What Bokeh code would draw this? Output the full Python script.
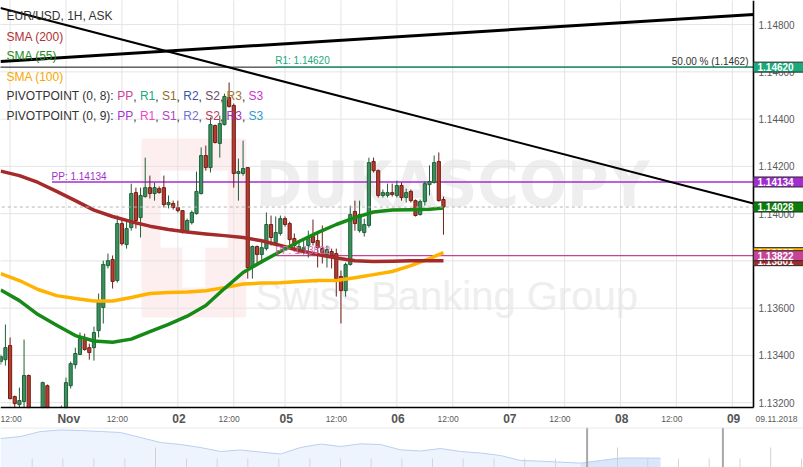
from bokeh.plotting import figure
from bokeh.models import Range1d, FixedTicker, PrintfTickFormatter, Label, BoxAnnotation, Span, ColumnDataSource, LinearAxis
from bokeh.layouts import column
from bokeh.embed import file_html
from bokeh.resources import INLINE

FONT = "Liberation Sans"

# ---------------- data ----------------
# candle index = trading hour counted from 01 Nov 00:00
candle_idx = list(range(-14, 82))
opens = [1.13374, 1.13382, 1.13442, 1.13226, 1.13192, 1.13205, 1.13315, 1.13158, 1.13133, 1.13158,
         1.13272, 1.13158, 1.13133, 1.13150, 1.13166, 1.13272, 1.13361, 1.13404, 1.13467, 1.13433,
         1.13433, 1.13505, 1.13603, 1.13780, 1.13806, 1.13717, 1.13958, 1.13869, 1.13941, 1.14089,
         1.13983, 1.14072, 1.14110, 1.14085, 1.14106, 1.14110, 1.14038, 1.14043, 1.14026, 1.14013,
         1.13928, 1.13962, 1.14000, 1.14085, 1.14246, 1.14195, 1.14373, 1.14297, 1.14377, 1.14491,
         1.14458, 1.14170, 1.14170, 1.14195, 1.13772, 1.13861, 1.13827, 1.13852, 1.13954, 1.13878,
         1.13916, 1.13979, 1.13958, 1.13895, 1.13844, 1.13844, 1.13865, 1.13903, 1.13886, 1.13852,
         1.13827, 1.13840, 1.13831, 1.13734, 1.13674, 1.13785, 1.14009, 1.13928, 1.13920, 1.13950,
         1.14221, 1.14182, 1.14077, 1.14077, 1.14089, 1.14077, 1.14119, 1.14068, 1.14094, 1.14055,
         1.13996, 1.14051, 1.14123, 1.14132, 1.14221, 1.14060]
highs = [1.13404, 1.13531, 1.13476, 1.13230, 1.13264, 1.13467, 1.13319, 1.13166, 1.13175, 1.13289,
         1.13277, 1.13171, 1.13166, 1.13188, 1.13306, 1.13374, 1.13433, 1.13497, 1.13492, 1.13450,
         1.13522, 1.13662, 1.13801, 1.13831, 1.13823, 1.13992, 1.13979, 1.13971, 1.14127, 1.14110,
         1.14110, 1.14237, 1.14161, 1.14132, 1.14115, 1.14161, 1.14077, 1.14055, 1.14055, 1.14013,
         1.13979, 1.14013, 1.14178, 1.14280, 1.14288, 1.14407, 1.14377, 1.14415, 1.14508, 1.14555,
         1.14466, 1.14233, 1.14309, 1.14195, 1.13865, 1.13865, 1.13886, 1.14005, 1.13992, 1.13988,
         1.13992, 1.13988, 1.13966, 1.13916, 1.13886, 1.13886, 1.13928, 1.13975, 1.13924, 1.13950,
         1.13865, 1.13852, 1.13852, 1.13759, 1.13793, 1.14034, 1.14055, 1.14055, 1.13979, 1.14237,
         1.14237, 1.14187, 1.14102, 1.14127, 1.14127, 1.14140, 1.14132, 1.14106, 1.14102, 1.14060,
         1.14060, 1.14136, 1.14204, 1.14246, 1.14259, 1.14072]
lows = [1.13361, 1.13357, 1.13215, 1.13166, 1.13166, 1.13166, 1.13141, 1.13116, 1.13120, 1.13150,
        1.13145, 1.13120, 1.13124, 1.13133, 1.13158, 1.13260, 1.13344, 1.13404, 1.13420, 1.13382,
        1.13378, 1.13476, 1.13535, 1.13768, 1.13683, 1.13708, 1.13865, 1.13852, 1.13928, 1.13937,
        1.13899, 1.14068, 1.14064, 1.14055, 1.14085, 1.14026, 1.14022, 1.14017, 1.14005, 1.13916,
        1.13924, 1.13954, 1.13996, 1.14081, 1.14182, 1.14174, 1.14297, 1.14237, 1.14373, 1.14449,
        1.14110, 1.14055, 1.14161, 1.13725, 1.13725, 1.13785, 1.13789, 1.13844, 1.13865, 1.13873,
        1.13907, 1.13945, 1.13865, 1.13840, 1.13831, 1.13827, 1.13814, 1.13865, 1.13772, 1.13789,
        1.13772, 1.13768, 1.13649, 1.13535, 1.13649, 1.13780, 1.13928, 1.13920, 1.13903, 1.13941,
        1.14174, 1.14068, 1.14068, 1.14068, 1.14072, 1.14068, 1.14055, 1.14047, 1.14047, 1.13988,
        1.13992, 1.14034, 1.14077, 1.14127, 1.14051, 1.13911]
closes = [1.13395, 1.13433, 1.13217, 1.13196, 1.13209, 1.13315, 1.13158, 1.13133, 1.13166, 1.13285,
          1.13158, 1.13133, 1.13158, 1.13166, 1.13285, 1.13365, 1.13408, 1.13471, 1.13425, 1.13412,
          1.13497, 1.13632, 1.13785, 1.13801, 1.13713, 1.13958, 1.13873, 1.13937, 1.14085, 1.13971,
          1.14077, 1.14110, 1.14085, 1.14110, 1.14089, 1.14038, 1.14047, 1.14026, 1.14013, 1.13920,
          1.13971, 1.14005, 1.14094, 1.14246, 1.14195, 1.14377, 1.14301, 1.14381, 1.14496, 1.14453,
          1.14170, 1.14178, 1.14191, 1.13772, 1.13861, 1.13827, 1.13856, 1.13954, 1.13899, 1.13920,
          1.13979, 1.13954, 1.13890, 1.13865, 1.13861, 1.13856, 1.13895, 1.13878, 1.13856, 1.13823,
          1.13848, 1.13823, 1.13725, 1.13674, 1.13785, 1.13996, 1.13958, 1.13996, 1.13954, 1.14216,
          1.14182, 1.14077, 1.14089, 1.14089, 1.14081, 1.14119, 1.14068, 1.14089, 1.14055, 1.13992,
          1.14051, 1.14127, 1.14136, 1.14216, 1.14055, 1.14028]

sma_idx = [-14, -10, -6, -2, 2, 6, 10, 14, 18, 22, 26, 30, 34, 38, 42, 46, 50, 54, 58, 62, 66, 70, 74, 78, 81]
sma200 = [1.14180, 1.14161, 1.14132, 1.14094, 1.14055, 1.14015, 1.13988, 1.13966, 1.13947, 1.13933,
          1.13922, 1.13914, 1.13907, 1.13899, 1.13885, 1.13865, 1.13844, 1.13827, 1.13812, 1.13801,
          1.13797, 1.13799, 1.13801, 1.13801, 1.13801]
sma55 = [1.13677, 1.13632, 1.13573, 1.13528, 1.13484, 1.13461, 1.13456, 1.13469, 1.13501, 1.13531,
         1.13566, 1.13611, 1.13683, 1.13751, 1.13797, 1.13840, 1.13882, 1.13920, 1.13954, 1.13983,
         1.14007, 1.14015, 1.14017, 1.14019, 1.14024]
sma100 = [1.13746, 1.13717, 1.13679, 1.13653, 1.13641, 1.13630, 1.13630, 1.13645, 1.13662, 1.13666,
          1.13668, 1.13674, 1.13687, 1.13702, 1.13706, 1.13708, 1.13713, 1.13717, 1.13717, 1.13729,
          1.13742, 1.13755, 1.13780, 1.13810, 1.13835]

trend_down_x = [-14.06, 147.53]
trend_down_y = [1.14870, 1.14043]
trend_up_x = [-14.06, 147.53]
trend_up_y = [1.14644, 1.14843]

pp1_level, pp1_start = 1.14134, -3
pp2_level, pp2_start = 1.13822, 45
r1_level, r1_start = 1.14620, 45
fib50_level = 1.1462
last_price = 1.14028

y_ticks = [1.132, 1.134, 1.136, 1.138, 1.140, 1.142, 1.144, 1.146, 1.148]
half_day_label_ticks = [-13, 11, 35, 58, 82, 106, 130]
date_tick = 152.47
grid_ticks = [-12, 0, 12, 24, 36, 47, 59, 71, 83, 95, 107, 119, 131, 143]
day_labels = ["Nov", "02", "05", "06", "07", "08", "09"]
day_label_pos = [0.6, 24.25, 47.25, 71.25, 95.25, 119.25, 143.25]

nav_pos = list(range(34))
nav_val = [1.1668, 1.1692, 1.1752, 1.1770, 1.1764, 1.1752, 1.1740, 1.1680, 1.1620, 1.1596,
           1.1560, 1.1512, 1.1530, 1.1506, 1.1482, 1.1560, 1.1602, 1.1572, 1.1604, 1.1596,
           1.1532, 1.1518, 1.1548, 1.1512, 1.1494, 1.1464, 1.1404, 1.1396, 1.1384, 1.1372,
           1.1404, 1.1434, 1.1434, 1.1432]
nav_small_ticks = [1.585, 3.115, 4.665, 6.215, 9.3, 10.835, 12.365, 13.915, 15.465, 17.0, 18.535,
                   20.07, 21.6, 23.135, 24.675, 26.21, 27.75, 32.36, 33.9, 35.435, 36.975, 40.05]
nav_long_ticks = [7.75, 30.85, 38.51]
nav_window = [29.33, 36.12]

# ---------------- main chart ----------------
X0, X1 = -14.056, 158.26      # frame spans the full width
XAX = 147.53                  # where the price axis sits
YB, Y1 = 1.13179, 1.14902     # bottom of the price pane / top
Y0 = 1.13095                  # frame bottom (time labels strip below the pane)

p = figure(width=803, height=427, x_range=Range1d(X0, X1), y_range=Range1d(Y0, Y1),
           toolbar_location=None, output_backend="svg", y_axis_location="right",
           min_border_left=0, min_border_top=0, min_border_right=0, min_border_bottom=0)
p.outline_line_color = None
p.background_fill_color = "white"
p.grid.visible = False

# price axis
ya = p.yaxis[0]
ya.fixed_location = XAX
ya.bounds = (YB, Y1)
ya.ticker = FixedTicker(ticks=y_ticks)
ya.formatter = PrintfTickFormatter(format="%.5f")
ya.major_label_text_font = FONT
ya.major_label_text_font_size = "10px"
ya.major_label_text_color = "#5a5a5a"
ya.major_label_standoff = 5

# day axis (draws the bottom line)
xa = p.xaxis[0]
xa.fixed_location = YB
xa.bounds = (X0, XAX)
xa.ticker = FixedTicker(ticks=day_label_pos)
xa.major_label_overrides = {t: s for t, s in zip(day_label_pos, day_labels)}
xa.major_label_text_font = FONT
xa.major_label_text_font_size = "12px"
xa.major_label_text_font_style = "bold"
xa.major_label_text_color = "#555555"
xa.major_label_standoff = 4

# 12:00 axis
xb = LinearAxis(fixed_location=YB)
xb.ticker = FixedTicker(ticks=half_day_label_ticks + [date_tick])
ov = {t: "12:00" for t in half_day_label_ticks}
ov[date_tick] = "09.11.2018"
xb.major_label_overrides = ov
xb.major_label_text_font = FONT
xb.major_label_text_font_size = "8.5px"
xb.major_label_text_color = "#5a5a5a"
xb.major_label_standoff = 6
xb.axis_line_color = None
p.add_layout(xb, "below")

for ax in (xa, xb, ya):
    ax.major_tick_out = 0
    ax.major_tick_in = 0
    ax.minor_tick_out = 0
    ax.minor_tick_in = 0
for ax in (xa, ya):
    ax.axis_line_color = "black"
    ax.axis_line_width = 1.6

# watermark (logo box + texts)
p.add_layout(BoxAnnotation(left=16.2, right=38.7, top=1.14318, bottom=1.13560,
                           fill_color="#fdeff0", fill_alpha=1, line_color=None, level="image"))
p.add_layout(BoxAnnotation(left=20.3, right=34.7, top=1.14182, bottom=1.13856,
                           fill_color="white", fill_alpha=1, line_color=None, level="image"))
p.add_layout(BoxAnnotation(left=25.0, right=29.9, top=1.13856, bottom=1.13687,
                           fill_color="white", fill_alpha=1, line_color=None, level="image"))
p.add_layout(Label(x=40.67, y=1.14125, text="DUKASCOPY", text_font="DejaVu Sans Condensed",
                   text_font_style="bold", text_font_size="63px", text_color="#eeeeee",
                   text_baseline="middle", text_align="left", level="image"))
p.add_layout(Label(x=40.67, y=1.13653, text="Swiss Banking Group", text_font=FONT,
                   text_font_size="40px", text_color="#eeeeee",
                   text_baseline="middle", text_align="left", level="image"))

# grid lines (inside the price pane only)
p.segment(x0=grid_ticks, y0=[YB] * len(grid_ticks), x1=grid_ticks, y1=[Y1 + 0.001] * len(grid_ticks),
          line_color="#e4e4e4", line_width=1, level="underlay")
p.segment(x0=[X0 - 1] * len(y_ticks), y0=y_ticks, x1=[XAX] * len(y_ticks), y1=y_ticks,
          line_color="#e4e4e4", line_width=1, level="underlay")

# legend (top left) - below the candles
AW = {'P': 667, 'I': 278, 'V': 667, 'O': 778, 'T': 611, 'N': 722, ' ': 278, '(': 333, ')': 333,
      '0': 556, '8': 556, '9': 556, ',': 278, ':': 278, 'R': 722, 'S': 667, '1': 556, '2': 556, '3': 556}

def tw(s, size=12):
    return sum(AW[c] for c in s) * size / 1000.0

def legend_text(x, y, txt, color):
    p.add_layout(Label(x=6 + x, y=y + 20, x_units="screen", y_units="screen", text=txt, text_font=FONT,
                       text_font_size="12px", text_color=color, text_baseline="middle",
                       text_align="left", level="glyph"))

legend_text(0, 391.3, "EUR/USD, 1H, ASK", "#333333")
legend_text(0, 371, "SMA (200)", "#b03030")
legend_text(0, 351.3, "SMA (55)", "#1e8a1e")
legend_text(0, 331, "SMA (100)", "#f5a800")

tokens = ["PP", "R1", "S1", "R2", "S2", "R3", "S3"]
row_defs = [
    (311.3, "PIVOTPOINT (0, 8): ", ["#c8449b", "#19a97b", "#8f6a2a", "#3a55a8", "#6a4a6a", "#a07830", "#cc33cc"]),
    (291.3, "PIVOTPOINT (0, 9): ", ["#a833d0", "#ee44cc", "#b040c0", "#7070d8", "#c03858", "#a830c0", "#3399cc"]),
]
for ry, prefix, cols in row_defs:
    legend_text(0, ry, prefix.rstrip(), "#333333")
    x = tw(prefix)
    for i, (tok, col) in enumerate(zip(tokens, cols)):
        legend_text(x, ry, tok, col)
        x += tw(tok)
        if i < len(tokens) - 1:
            legend_text(x, ry, ",", "#333333")
            x += tw(", ")

# horizontal levels
p.segment(x0=[X0 - 1], y0=[fib50_level], x1=[XAX], y1=[fib50_level], line_color="#111111", line_width=1)
p.segment(x0=[pp1_start], y0=[pp1_level], x1=[XAX], y1=[pp1_level], line_color="#a32ccf", line_width=1.3)
p.segment(x0=[r1_start], y0=[r1_level], x1=[XAX], y1=[r1_level], line_color="#19a97b", line_width=1.3)
p.segment(x0=[pp2_start], y0=[pp2_level], x1=[XAX], y1=[pp2_level], line_color="#c84394", line_width=1.3)

# candles (cut at the bottom of the price pane)
up = [c >= o for o, c in zip(opens, closes)]
wick = dict(idx=[], high=[], low=[], edge=[])
body = dict(idx=[], top=[], bottom=[], fill=[], edge=[])
for i, o, h, l, c, u in zip(candle_idx, opens, highs, lows, closes, up):
    edge = "#1f5f38" if u else "#6f1e16"
    if h > YB:
        wick["idx"].append(i); wick["high"].append(h); wick["low"].append(max(l, YB)); wick["edge"].append(edge)
    if max(o, c) > YB:
        body["idx"].append(i); body["top"].append(max(o, c)); body["bottom"].append(max(min(o, c), YB))
        body["fill"].append("#3b915e" if u else "#b83b2d"); body["edge"].append(edge)
p.segment(x0="idx", y0="high", x1="idx", y1="low", line_color="edge", line_width=1,
          source=ColumnDataSource(wick))
p.vbar(x="idx", width=0.68, top="top", bottom="bottom", fill_color="fill", line_color="edge",
       line_width=1, source=ColumnDataSource(body))

# moving averages
p.line(sma_idx, sma100, line_color="#ffb300", line_width=3.5, line_join="round")
p.line(sma_idx, sma200, line_color="#a52a2a", line_width=3.5, line_join="round")
p.line(sma_idx, sma55, line_color="#168a16", line_width=3.5, line_join="round")

# current price dashed line
p.segment(x0=[X0 - 1], y0=[last_price], x1=[XAX], y1=[last_price], line_color="#b5b5b5",
          line_width=1, line_dash="3 3")

# trend lines
p.line(trend_down_x, trend_down_y, line_color="black", line_width=2)
p.line(trend_up_x, trend_up_y, line_color="black", line_width=3)

# level labels
p.add_layout(Label(x=-3.1, y=pp1_level, text="PP: 1.14134", text_font=FONT, text_font_size="10px",
                   text_color="#a32ccf", text_baseline="bottom", text_align="left"))
p.add_layout(Label(x=44.9, y=r1_level, y_offset=1, text="R1: 1.14620", text_font=FONT,
                   text_font_size="10px", text_color="#19a97b", text_baseline="bottom", text_align="left"))
p.add_layout(Label(x=44.9, y=pp2_level, text="PP: 1.13822", text_font=FONT, text_font_size="10px",
                   text_color="#d070b0", text_baseline="bottom", text_align="left"))
p.add_layout(Label(x=748, x_units="screen", y=fib50_level, text="50.00 % (1.1462)", text_font=FONT,
                   text_font_size="10px", text_color="#333333", text_baseline="bottom", text_align="right"))

# price boxes on the price axis
def price_box(level, txt, color):
    p.add_layout(Label(x=753, x_units="screen", y=level, text=txt, text_font=FONT,
                       text_font_size="10px", text_font_style="bold", text_color="white",
                       text_baseline="middle", text_align="left",
                       background_fill_color=color, border_line_color="#2a2a2a", border_line_width=1,
                       padding=dict(left=4, right=11, top=1, bottom=1)))

price_box(sma100[-1], "%.5f" % sma100[-1], "#f7b500")
price_box(sma200[-1], "%.5f" % sma200[-1], "#a52a2a")
price_box(pp2_level, "1.13822", "#c84394")
price_box(r1_level, "1.14620", "#19a97b")
price_box(pp1_level, "1.14134", "#a32ccf")
price_box(last_price, "1.14028", "#0b7d0b")

# ---------------- navigator ----------------
nav = figure(width=803, height=40, x_range=Range1d(0, 40.15), y_range=Range1d(1.132, 1.18),
             toolbar_location=None, output_backend="svg", x_axis_location=None, y_axis_location=None,
             min_border_left=0, min_border_right=0, min_border_top=0, min_border_bottom=0)
nav.outline_line_color = None
nav.grid.visible = False
nav.varea(x=nav_pos[:30], y1=1.10, y2=nav_val[:30], fill_color="#eef4fd")
nav.varea(x=nav_pos[29:], y1=1.10, y2=nav_val[29:], fill_color="#dae6f9")
nav.line(nav_pos, nav_val, line_color="#b9cff0", line_width=1)
nav.segment(x0=nav_small_ticks, y0=[1.1428] * len(nav_small_ticks), x1=nav_small_ticks,
            y1=[1.10] * len(nav_small_ticks), line_color="#d6d6d6", line_width=1)
nav.segment(x0=nav_long_ticks, y0=[1.156] * len(nav_long_ticks), x1=nav_long_ticks,
            y1=[1.10] * len(nav_long_ticks), line_color="#d0d0d0", line_width=1)
for loc in nav_window:
    nav.add_layout(Span(location=loc, dimension="height", line_color="#a8a8a8", line_width=2))
nav.add_layout(Span(location=1.1795, dimension="width", line_color="#e2e2e2", line_width=1))

layout = column(p, nav, spacing=0)
open("out.html", "w").write(file_html(layout, INLINE))
